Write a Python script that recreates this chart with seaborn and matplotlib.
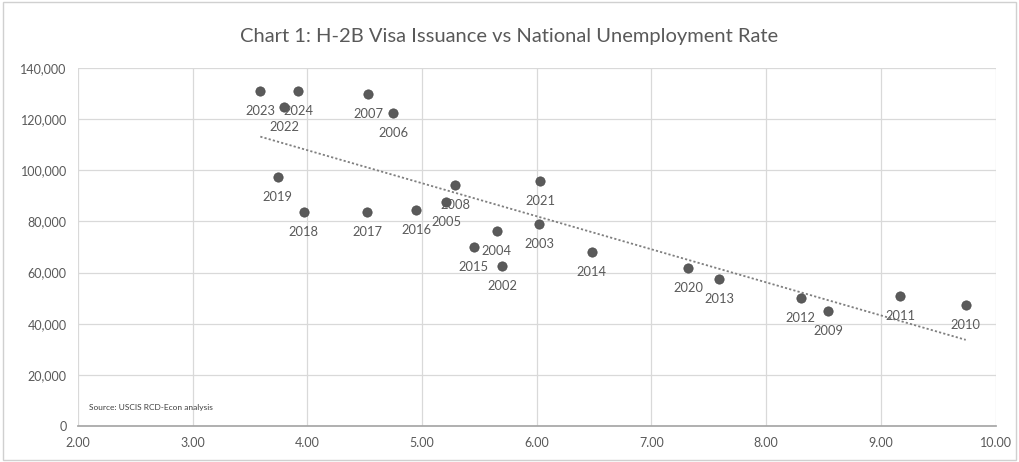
import matplotlib
matplotlib.use("Agg")
import matplotlib.pyplot as plt
import matplotlib.ticker as mticker
from matplotlib.patches import Rectangle
import seaborn as sns
import pandas as pd

years = ["2002", "2003", "2004", "2005", "2006", "2007", "2008", "2009",
         "2010", "2011", "2012", "2013", "2014", "2015", "2016", "2017",
         "2018", "2019", "2020", "2021", "2022", "2023", "2024"]
unemployment = [5.70, 6.02, 5.65, 5.21, 4.75, 4.53, 5.29, 8.54,
                9.74, 9.17, 8.30, 7.59, 6.48, 5.45, 4.95, 4.52,
                3.97, 3.74, 7.32, 6.03, 3.80, 3.59, 3.92]
visas = [62600, 79000, 76300, 87600, 122400, 129800, 94300, 45000,
         47300, 50800, 50000, 57500, 68000, 70000, 84500, 83700,
         83700, 97400, 61800, 95800, 124800, 130900, 130900]

df = pd.DataFrame({"year": years, "rate": unemployment, "visas": visas})

sns.set_theme(style="white")
plt.rcParams["font.family"] = ["Lato", "DejaVu Sans"]
grey = "#595959"

fig = plt.figure(figsize=(10.19, 4.62), dpi=100)
ax = fig.add_axes([0.0765, 0.078, 0.9005, 0.775])

sns.scatterplot(data=df, x="rate", y="visas", ax=ax, color="#5a5a5a",
                s=45, edgecolor="#4a4a4a", linewidth=0.5, zorder=3)
# linear trendline over the data range
sns.regplot(data=df, x="rate", y="visas", ax=ax, scatter=False, ci=None,
            truncate=True, line_kws={"color": "#7f7f7f", "lw": 1.3,
                                     "linestyle": (0, (1.2, 1.2))})

# year labels sit just below each point
for yr, x, y in zip(years, unemployment, visas):
    ax.annotate(yr, (x, y), xytext=(0, -20), textcoords="offset pixels",
                ha="center", va="center", fontsize=9.3, color=grey, zorder=4)

ax.set_xlim(2, 10)
ax.set_ylim(0, 140000)
ax.set_xticks(range(2, 11))
ax.set_yticks(range(0, 140001, 20000))
ax.xaxis.set_major_formatter(mticker.FormatStrFormatter("%.2f"))
ax.yaxis.set_major_formatter(mticker.StrMethodFormatter("{x:,.0f}"))
ax.tick_params(axis="both", labelsize=9, colors=grey, length=0, pad=8)
ax.grid(True, color="#d9d9d9", lw=0.9)
ax.set_xlabel("")
ax.set_ylabel("")
for side in ["top", "right", "left"]:
    ax.spines[side].set_visible(False)
ax.spines["bottom"].set_color("#a6a6a6")

ax.text(0.012, 0.045, "Source: USCIS RCD-Econ analysis", transform=ax.transAxes,
        fontsize=6, color="#404040")

fig.text(0.5, 0.92, "Chart 1: H-2B Visa Issuance vs National Unemployment Rate",
         ha="center", va="center", fontsize=14.5, color=grey)

fig.patches.append(Rectangle((0.003, 0.005), 0.994, 0.99, transform=fig.transFigure,
                             fill=False, edgecolor="#d0d0d0", lw=1))

fig.savefig("out.png", dpi=100)
